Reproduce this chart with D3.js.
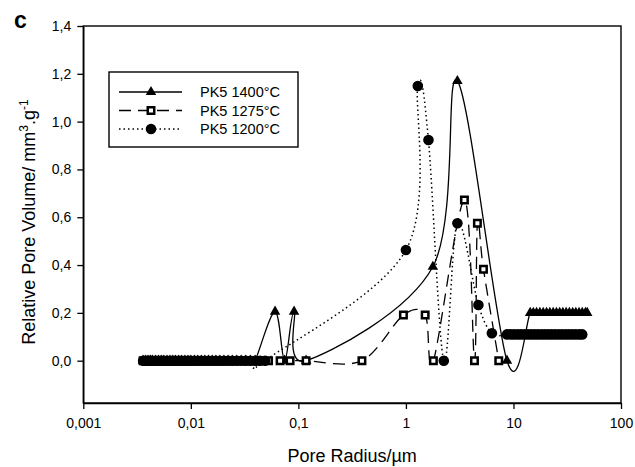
<!DOCTYPE html>
<html>
<head>
<meta charset="utf-8">
<script src="https://cdn.jsdelivr.net/npm/d3@7"></script>
<style>
body { margin: 0; background: #fff; }
svg { font-family: "Liberation Sans", Arial, sans-serif; }
</style>
</head>
<body>
<script>
// PK5 1400°C (triangles, solid line)
var r1400 = [0.0036, 0.0038, 0.0040, 0.0042, 0.0044, 0.0047, 0.0050, 0.0053, 0.0056, 0.0060,
             0.0064, 0.0068, 0.0072, 0.0077, 0.0082, 0.0088, 0.0094, 0.0100, 0.0108, 0.0116,
             0.0125, 0.0135, 0.0146, 0.0158, 0.0171, 0.0186, 0.0203, 0.0222, 0.0243, 0.0267,
             0.0294, 0.0324, 0.0358, 0.0396,
             0.0607, 0.0745, 0.0912, 0.118, 1.78, 3.01, 8.7,
             14.3, 15.3, 16.4, 17.6, 18.9, 20.3, 21.8, 23.4, 25.1, 26.9,
             28.8, 30.9, 33.1, 35.5, 38.0, 40.7, 43.6, 46.7, 48.5];
var v1400 = [0, 0, 0, 0, 0, 0, 0, 0, 0, 0,
             0, 0, 0, 0, 0, 0, 0, 0, 0, 0,
             0, 0, 0, 0, 0, 0, 0, 0, 0, 0,
             0, 0, 0, 0,
             0.205, 0, 0.205, 0, 0.393, 1.17, 0,
             0.2, 0.2, 0.2, 0.2, 0.2, 0.2, 0.2, 0.2, 0.2, 0.2,
             0.2, 0.2, 0.2, 0.2, 0.2, 0.2, 0.2, 0.2, 0.2];

// PK5 1275°C (open squares, dashed line)
var r1275 = [0.0036, 0.0038, 0.0040, 0.0042, 0.0044, 0.0047, 0.0050, 0.0053, 0.0056, 0.0060,
             0.0064, 0.0068, 0.0072, 0.0077, 0.0082, 0.0088, 0.0094, 0.0100, 0.0108, 0.0116,
             0.0125, 0.0135, 0.0146, 0.0158, 0.0171, 0.0186, 0.0203, 0.0222, 0.0243, 0.0267,
             0.0294, 0.0324, 0.0358, 0.0396, 0.044,
             0.0528, 0.0676, 0.0837, 0.118, 0.39, 0.948, 1.51, 1.80,
             3.50, 4.34, 4.62, 5.26, 7.3];
var v1275 = [0, 0, 0, 0, 0, 0, 0, 0, 0, 0,
             0, 0, 0, 0, 0, 0, 0, 0, 0, 0,
             0, 0, 0, 0, 0, 0, 0, 0, 0, 0,
             0, 0, 0, 0, 0,
             0, 0, 0, 0, 0, 0.191, 0.191, 0,
             0.672, 0, 0.575, 0.382, 0];

// PK5 1200°C (filled circles, dotted line)
var r1200 = [0.0036, 0.0038, 0.0040, 0.0042, 0.0044, 0.0047, 0.0050, 0.0053, 0.0056, 0.0060,
             0.0064, 0.0068, 0.0072, 0.0077, 0.0082, 0.0088, 0.0094, 0.0100, 0.0108, 0.0116,
             0.0125, 0.0135, 0.0146, 0.0158, 0.0171, 0.0186, 0.0203, 0.0222, 0.0243, 0.0267,
             0.0294, 0.0324, 0.0358, 0.0396, 0.044, 0.049,
             1.0, 1.29, 1.62, 2.25, 3.01, 4.72, 6.3,
             8.7, 9.4, 10.1, 10.9, 11.7, 12.6, 13.6, 14.6, 15.7, 16.9,
             18.2, 19.6, 21.1, 22.7, 24.4, 26.3, 28.3, 30.5, 32.8, 35.3,
             38.0, 40.9, 43.6];
var v1200 = [0, 0, 0, 0, 0, 0, 0, 0, 0, 0,
             0, 0, 0, 0, 0, 0, 0, 0, 0, 0,
             0, 0, 0, 0, 0, 0, 0, 0, 0, 0,
             0, 0, 0, 0, 0, 0,
             0.463, 1.149, 0.923, 0, 0.575, 0.233, 0.115,
             0.11, 0.11, 0.11, 0.11, 0.11, 0.11, 0.11, 0.11, 0.11, 0.11,
             0.11, 0.11, 0.11, 0.11, 0.11, 0.11, 0.11, 0.11, 0.11, 0.11,
             0.11, 0.11, 0.11];

var seriesNames = ["PK5 1400°C", "PK5 1275°C", "PK5 1200°C"];
var xTicks = [0.001, 0.01, 0.1, 1, 10, 100];
var xTickLabels = ["0,001", "0,01", "0,1", "1", "10", "100"];
var yTicks = [0, 0.2, 0.4, 0.6, 0.8, 1.0, 1.2, 1.4];
var yTickLabels = ["0,0", "0,2", "0,4", "0,6", "0,8", "1,0", "1,2", "1,4"];

var svg = d3.select("body").append("svg")
    .attr("width", 635)
    .attr("height", 467);

svg.append("rect").attr("width", 635).attr("height", 467).attr("fill", "#fff");

var plotLeft = 83.3, plotRight = 621, plotTop = 26, plotBottom = 403;

var x = d3.scaleLog().domain([0.001, 100]).range([plotLeft, plotRight]),
    y = d3.scaleLinear().domain([-0.177, 1.4]).range([plotBottom, plotTop]);

// plot frame
svg.append("rect")
    .attr("x", plotLeft).attr("y", plotTop)
    .attr("width", plotRight - plotLeft).attr("height", plotBottom - plotTop)
    .attr("fill", "none").attr("stroke", "#000").attr("stroke-width", 1.4);

var xAxis = svg.append("g")
    .attr("transform", "translate(0," + plotBottom + ")")
    .call(d3.axisBottom(x)
        .tickValues(xTicks)
        .tickFormat(function(d, i) { return xTickLabels[i]; })
        .tickSize(6).tickSizeOuter(0).tickPadding(9));

var yAxis = svg.append("g")
    .attr("transform", "translate(" + plotLeft + ",0)")
    .call(d3.axisLeft(y)
        .tickValues(yTicks)
        .tickFormat(function(d, i) { return yTickLabels[i]; })
        .tickSize(6).tickSizeOuter(0).tickPadding(6));

[xAxis, yAxis].forEach(function(a) {
    a.attr("font-size", 14).attr("font-family", "Liberation Sans, Arial, sans-serif");
    a.selectAll("path.domain").attr("stroke-width", 1.4);
    a.selectAll(".tick line").attr("stroke-width", 1.3);
    a.selectAll("text").attr("fill", "#000");
});

// axis titles
svg.append("text")
    .attr("x", (plotLeft + plotRight) / 2).attr("y", 462)
    .attr("text-anchor", "middle")
    .attr("font-size", 18)
    .text("Pore Radius/µm");

var yt = svg.append("text")
    .attr("transform", "translate(35,222) rotate(-90)")
    .attr("text-anchor", "middle")
    .attr("font-size", 18);
yt.append("tspan").text("Relative Pore Volume/ mm");
yt.append("tspan").attr("font-size", 12).attr("dy", -7).text("3");
yt.append("tspan").attr("dy", 7).text(".g");
yt.append("tspan").attr("font-size", 12).attr("dy", -7).text("-1");

// panel letter
svg.append("text")
    .attr("x", 14).attr("y", 28)
    .attr("font-size", 23).attr("font-weight", "bold")
    .text("c");

var styles = [
    {dash: null, symbol: d3.symbolTriangle, size: 48, fill: "#000", sw: 0},
    {dash: "12,7", symbol: d3.symbolSquare, size: 42, fill: "#fff", sw: 2.5},
    {dash: "1.5,3", symbol: d3.symbolCircle, size: 88, fill: "#000", sw: 0}
];

var series = [
    {name: seriesNames[0], values: r1400.map(function(r, i) { return {r: r, v: v1400[i]}; })},
    {name: seriesNames[1], values: r1275.map(function(r, i) { return {r: r, v: v1275[i]}; })},
    {name: seriesNames[2], values: r1200.map(function(r, i) { return {r: r, v: v1200[i]}; })}
];

var line = d3.line()
    .curve(d3.curveCardinal.tension(0))
    .x(function(d) { return x(d.r); })
    .y(function(d) { return y(d.v); });

series.forEach(function(s, k) {
    var st = styles[k];
    var g = svg.append("g").attr("class", "series");
    g.append("path")
        .attr("d", line(s.values))
        .attr("fill", "none")
        .attr("stroke", "#000")
        .attr("stroke-width", k == 2 ? 1.5 : 1.3)
        .attr("stroke-dasharray", st.dash);
    g.selectAll(".pt")
        .data(s.values)
        .enter().append("path")
        .attr("class", "pt")
        .attr("transform", function(d) { return "translate(" + x(d.r) + "," + y(d.v) + ")"; })
        .attr("d", d3.symbol().type(st.symbol).size(st.size))
        .attr("fill", st.fill)
        .attr("stroke", st.sw ? "#000" : "none")
        .attr("stroke-width", st.sw);
});

// legend
var legend = svg.append("g");
legend.append("rect")
    .attr("x", 109).attr("y", 72).attr("width", 189).attr("height", 75)
    .attr("fill", "#fff").attr("stroke", "#000").attr("stroke-width", 1.4);

var rowY = [92, 110.5, 129];
series.forEach(function(s, k) {
    var st = styles[k];
    legend.append("line")
        .attr("x1", 119).attr("x2", 182)
        .attr("y1", rowY[k]).attr("y2", rowY[k])
        .attr("stroke", "#000")
        .attr("stroke-width", k == 2 ? 1.5 : 1.3)
        .attr("stroke-dasharray", st.dash);
    legend.append("path")
        .attr("transform", "translate(151," + rowY[k] + ")")
        .attr("d", d3.symbol().type(st.symbol).size(st.size))
        .attr("fill", st.fill)
        .attr("stroke", st.sw ? "#000" : "none")
        .attr("stroke-width", st.sw);
    legend.append("text")
        .attr("x", 200).attr("y", rowY[k])
        .attr("dy", "0.35em")
        .attr("font-size", 14.5)
        .text(s.name);
});
</script>
</body>
</html>
